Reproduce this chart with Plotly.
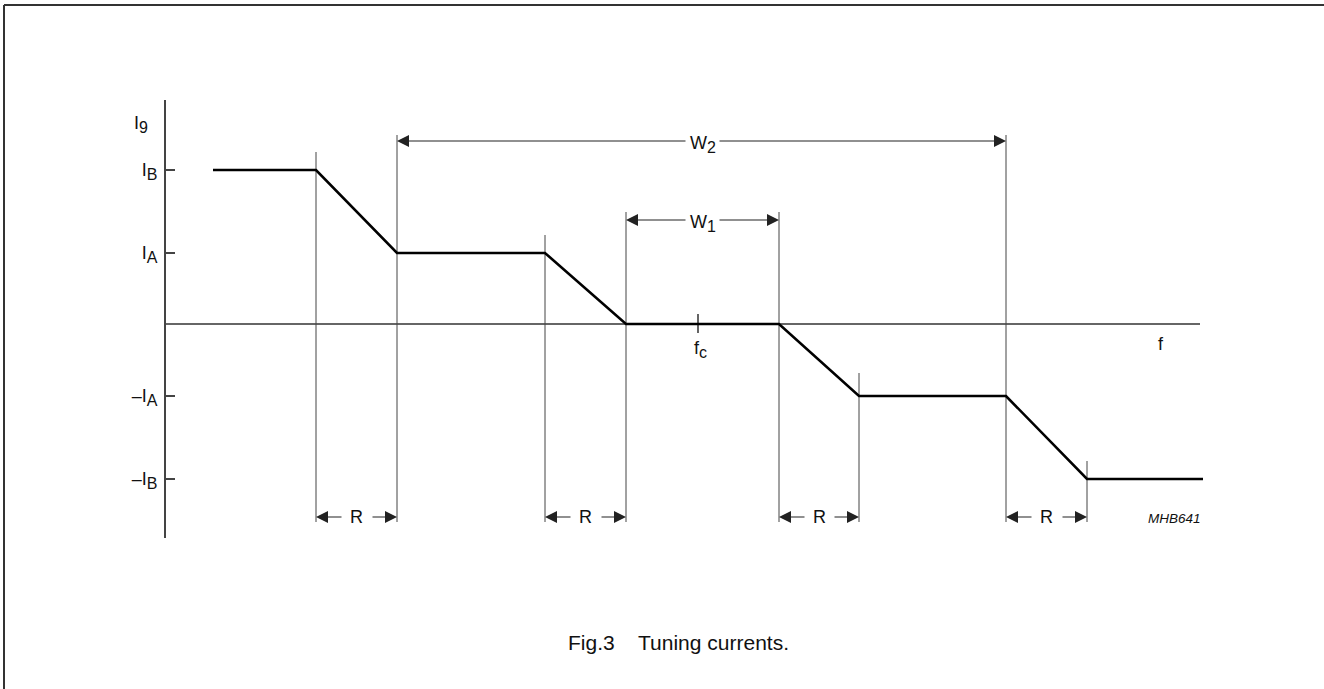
import plotly.graph_objects as go

# ---- data (x: frequency offset from fc, arbitrary units; y: tuning current, arbitrary units)
curve_f = [-485, -382, -301, -153, -72, 81, 161, 308, 389, 505]
curve_i = [154, 154, 71, 71, 0, 0, -72, -72, -155, -155]

level_vals = [154, 71, -72, -155]


def sub(s, size=16):
    return '<sub><span style="font-size:%dpx">%s</span></sub>' % (size, s)


level_labels = ["I" + sub("B"), "I" + sub("A"), "–I" + sub("A"), "–I" + sub("B")]

guide_f = [-382, -301, -153, -72, 81, 161, 308, 389]
guide_top = [172, 189, 89, 112, 112, -49, 189, -137]
guide_bottom = -198

r_pairs = [(-382, -301), (-153, -72), (81, 161), (308, 389)]
r_level = -193
w1_span = (-72, 81)
w1_level = 104
w2_span = (-301, 308)
w2_level = 183
axis_f = (-532, 502)
fc_f = 0

FONT = "Liberation Sans, Arial, sans-serif"
W, H = 1324, 689
ML, MR, MT, MB = 166, 114, 100, 151
PW, PH = W - ML - MR, H - MT - MB


def px(xp):
    return (xp - ML) / PW


def py(yp):
    return (H - MB - yp) / PH


fig = go.Figure()

# horizontal (f) axis
fig.add_trace(go.Scatter(x=list(axis_f), y=[0, 0], mode="lines",
                         line=dict(color="#333", width=1.3), hoverinfo="skip"))
# vertical guide lines
gx, gy = [], []
for f, top in zip(guide_f, guide_top):
    gx += [f, f, None]
    gy += [top, guide_bottom, None]
fig.add_trace(go.Scatter(x=gx, y=gy, mode="lines",
                         line=dict(color="#444", width=1), hoverinfo="skip"))
# fc tick
fig.add_trace(go.Scatter(x=[fc_f, fc_f], y=[10, -9], mode="lines",
                         line=dict(color="#111", width=1.3), hoverinfo="skip"))
# tuning current curve
fig.add_trace(go.Scatter(x=curve_f, y=curve_i, mode="lines",
                         line=dict(color="black", width=2.6), hoverinfo="skip"))

ann = []


def arrow(tip, tail, y):
    ann.append(dict(x=tip, y=y, ax=tail, ay=y, xref="x", yref="y", axref="x", ayref="y",
                    text="", showarrow=True, arrowhead=2, arrowsize=2.0, arrowwidth=1.2,
                    arrowcolor="#222", standoff=0, startstandoff=0))


def label(x, y, text, size=18, xanchor="center", yanchor="middle", italic=False,
          xref="x", yref="y"):
    ann.append(dict(x=x, y=y, xref=xref, yref=yref, text=text, showarrow=False,
                    xanchor=xanchor, yanchor=yanchor,
                    font=dict(family=FONT, size=size, color="#111",
                              style="italic" if italic else "normal")))


for a, b in r_pairs:
    arrow(a, a + 27, r_level)
    arrow(b, b - 26, r_level)
    label((a + b) / 2, r_level, "R")

# W1
arrow(w1_span[0], -11, w1_level)
arrow(w1_span[1], 20, w1_level)
label(5, w1_level - 3, "W" + sub("1"))
# W2
arrow(w2_span[0], -11, w2_level)
arrow(w2_span[1], 20, w2_level)
label(5, w2_level - 3, "W" + sub("2"))

label(2, -12, "f" + sub("c"), yanchor="top")
label(463, -20, "f")
label(505, -194, "MHB641", size=13.5, xanchor="right", italic=True)
label(px(132), py(125), "I" + sub("9"), xanchor="left", xref="paper", yref="paper")
label(px(678), py(642), "Fig.3\u00a0\u00a0\u00a0\u00a0Tuning currents.", size=21,
      xref="paper", yref="paper")

fig.update_layout(
    width=W, height=H,
    margin=dict(l=ML, r=MR, t=MT, b=MB),
    paper_bgcolor="white", plot_bgcolor="white",
    showlegend=False,
    annotations=ann,
    shapes=[
        dict(type="line", xref="paper", yref="paper", x0=px(4), x1=px(1330),
             y0=py(5), y1=py(5), line=dict(color="#333", width=2)),
        dict(type="line", xref="paper", yref="paper", x0=px(4), x1=px(4),
             y0=py(5), y1=py(695), line=dict(color="#333", width=2)),
    ],
    xaxis=dict(range=[-532, 512], showgrid=False, zeroline=False, showline=False,
               showticklabels=False, ticks="", fixedrange=True),
    yaxis=dict(range=[-214, 224], showgrid=False, zeroline=False, showline=True,
               linecolor="#444", linewidth=2, ticks="inside", ticklen=9, tickwidth=1.5,
               tickcolor="#444", tickvals=level_vals, ticktext=level_labels,
               ticklabelstandoff=3,
               tickfont=dict(family=FONT, size=18, color="#111"), fixedrange=True),
)

fig.write_html("out.html", config={"displayModeBar": False},
               post_script="document.body.style.margin='0px';")
